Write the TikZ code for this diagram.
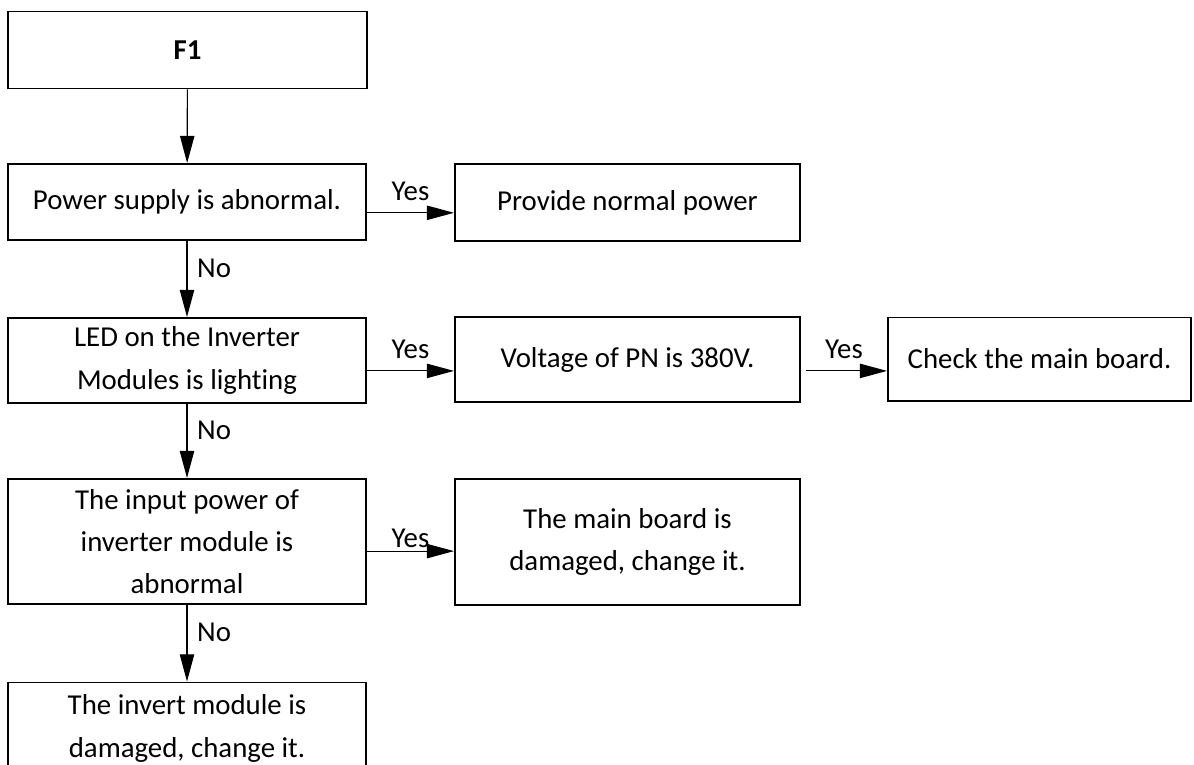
\documentclass[tikz,border=0pt]{standalone}
\usepackage{fontspec}
\setmainfont{Carlito}[Ligatures=NoCommon]
\usetikzlibrary{positioning, arrows.meta, calc}

\begin{document}
\begin{tikzpicture}[x=0.025cm, y=-0.025cm, every node/.style={font=\fontsize{20.5}{30}\selectfont}]
  \tikzset{
    box/.style={draw, line width=1.4pt, align=center, inner sep=0pt},
    lbox/.style={box, minimum width=8.95cm},
    mbox/.style={box, minimum width=8.625cm},
    arr/.style={-{Triangle[length=0.68cm, width=0.36cm]}, line width=0.8pt},
    yes/.style={midway, above=0.27cm, inner sep=0.02cm},
    no/.style={pos=0.36, right=0.22cm, inner sep=0.02cm},
  }
  \useasboundingbox (0,0) rectangle (1194,764);
  %% left column
  \node[lbox, minimum height=1.925cm] (f1) at (187.5,50) {\bfseries F1};
  \node[lbox, minimum height=1.9cm] (power) at (187,202) {Power supply is abnormal.};
  \node[lbox, minimum height=2.125cm] (led) at (187,360.5) {LED on the Inverter\\Modules is lighting};
  \node[lbox, minimum height=3.125cm] (input) at (187,541.5) {The input power of\\inverter module is\\abnormal};
  \node[lbox, minimum height=2.3cm] (invert) at (187,728.5) {The invert module is\\damaged, change it.};
  %% right side
  \node[mbox, minimum height=1.925cm] (provide) at (627.5,202.5) {Provide normal power};
  \node[mbox, minimum height=2.125cm] (volt) at (627.5,359.5) {Voltage of PN is 380V.};
  \node[box, minimum width=7.575cm, minimum height=2.075cm] (check) at (1039.5,359) {Check the main board.};
  \node[mbox, minimum height=3.15cm] (board) at (627.5,542) {The main board is\\damaged, change it.};
  %% No branches
  \draw[arr] (f1) -- (power);
  \draw[arr] (power) -- node[no] (no1) {No} (led);
  \draw[arr] (led) -- node[no] (no2) {No} (input);
  \draw[arr] (input) -- node[no] (no3) {No} (invert);
  %% Yes branches
  \coordinate (y1) at ([yshift=-0.27cm]power.east);
  \coordinate (y2) at ([yshift=-0.26cm]led.east);
  \coordinate (y3) at ([yshift=-0.24cm]input.east);
  \draw[arr] (y1) -- node[yes] (yes1) {Yes} (y1 -| provide.west);
  \draw[arr] (y2) -- node[yes] (yes2) {Yes} (y2 -| volt.west);
  \draw[arr, shorten <=0.12cm] (y2 -| volt.east) -- node[yes] (yes3) {Yes} (y2 -| check.west);
  \draw[arr] (y3) -- node[midway, above=0.06cm, inner sep=0.02cm] (yes4) {Yes} (y3 -| board.west);
\end{tikzpicture}
\end{document}
